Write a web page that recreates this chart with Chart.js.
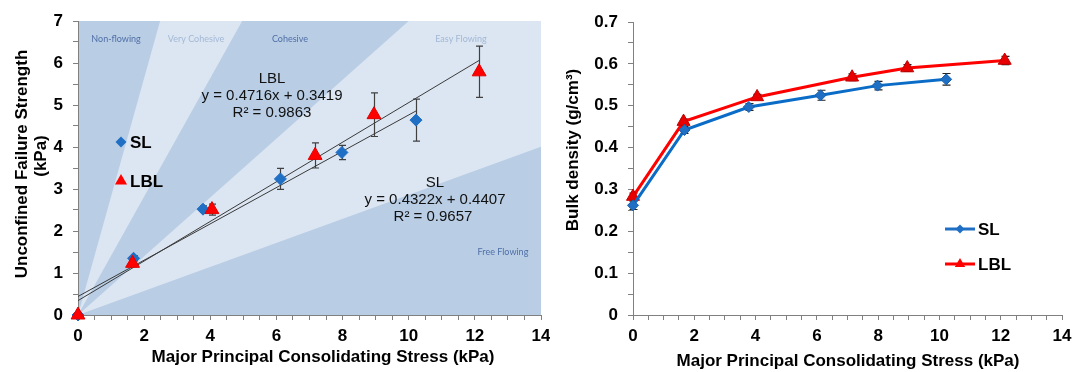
<!DOCTYPE html>
<html><head><meta charset="utf-8">
<script src="https://cdn.jsdelivr.net/npm/chart.js@4.4.1/dist/chart.umd.min.js"></script>
<style>
html,body{margin:0;padding:0;background:#fff;}
#wrap{position:relative;width:1075px;height:372px;overflow:hidden;background:#fff;}
#c1{position:absolute;left:0;top:0;}
#c2{position:absolute;left:550px;top:0;}
</style></head><body>
<div id="wrap"><canvas id="c1" width="550" height="372"></canvas><canvas id="c2" width="525" height="372"></canvas></div>
<script>
// ---------- DATA ----------
// Left: unconfined failure strength vs major principal consolidating stress
const slStressUFS  = [0, 1.68, 3.78, 6.12, 7.98, 10.22];
const slUFS        = [0, 1.35, 2.52, 3.24, 3.87, 4.64];
const slUFSErr     = [0, 0.06, 0.08, 0.25, 0.17, 0.50];
const lblStressUFS = [0, 1.65, 4.05, 7.17, 8.95, 12.13];
const lblUFS       = [0, 1.23, 2.51, 3.80, 4.77, 5.79];
const lblUFSErr    = [0, 0.08, 0.13, 0.30, 0.52, 0.61];
// Linear trend lines (end points)
const slTrendX  = [0, 10.22];
const slTrendY  = [0.441, 4.858];
const lblTrendX = [0, 12.13];
const lblTrendY = [0.342, 6.062];
// Flowability zone boundaries (slopes of lines through origin, in axis units)
const zoneSlopes = [2.82, 1.41, 0.70, 0.286];
const zoneNames  = ['Non-flowing', 'Very Cohesive', 'Cohesive', 'Easy Flowing', 'Free Flowing'];
const slEquation  = ['SL', 'y = 0.4322x + 0.4407', 'R² = 0.9657'];
const lblEquation = ['LBL', 'y = 0.4716x + 0.3419', 'R² = 0.9863'];

// Right: bulk density vs major principal consolidating stress
const slStressBD  = [0, 1.68, 3.78, 6.12, 7.98, 10.22];
const slBD        = [0.262, 0.442, 0.497, 0.525, 0.548, 0.563];
const slBDErr     = [0.010, 0.008, 0.008, 0.012, 0.010, 0.014];
const lblStressBD = [0, 1.65, 4.05, 7.15, 8.95, 12.13];
const lblBD       = [0.283, 0.462, 0.521, 0.568, 0.590, 0.608];
const lblBDErr    = [0.008, 0.006, 0.006, 0.008, 0.008, 0.010];

const seriesNames = ['SL', 'LBL'];
const xTitle = 'Major Principal Consolidating Stress (kPa)';
const yTitleLeft = ['Unconfined Failure Strength', '(kPa)'];
const yTitleRight = 'Bulk density (g/cm³)';

// ---------- HELPERS ----------
const FONT = '"Liberation Sans", Arial, sans-serif';
Chart.defaults.font.family = FONT;
Chart.defaults.color = '#000';
const BLUE = '#1f6fc4', RED = '#ff0000';
const pts = (xs, ys) => xs.map((x, i) => ({x: x, y: ys[i]}));

function drawMarker(ctx, style, x, y, r, fill, stroke) {
  ctx.beginPath();
  if (style === 'rectRot') {
    ctx.moveTo(x - r, y); ctx.lineTo(x, y - r); ctx.lineTo(x + r, y); ctx.lineTo(x, y + r);
  } else {
    const a = 2 * Math.PI / 3;
    ctx.moveTo(x, y - r);
    ctx.lineTo(x + r * Math.sin(a), y - r * Math.cos(a));
    ctx.lineTo(x + r * Math.sin(2 * a), y - r * Math.cos(2 * a));
  }
  ctx.closePath();
  ctx.fillStyle = fill; ctx.fill();
  if (stroke) { ctx.strokeStyle = stroke; ctx.lineWidth = 1; ctx.stroke(); }
}

const zonesPlugin = {
  id: 'zones',
  beforeDraw(chart, args, o) {
    if (!o || !o.slopes) return;
    const ctx = chart.ctx, xs = chart.scales.x, ys = chart.scales.y, a = chart.chartArea;
    ctx.save();
    ctx.beginPath(); ctx.rect(a.left, a.top, a.right - a.left, a.bottom - a.top); ctx.clip();
    ctx.fillStyle = o.dark; ctx.fillRect(a.left, a.top, a.right - a.left, a.bottom - a.top);
    const X = xs.max, ox = xs.getPixelForValue(0), oy = ys.getPixelForValue(0);
    const band = (s1, s2) => {
      ctx.beginPath(); ctx.moveTo(ox, oy);
      ctx.lineTo(xs.getPixelForValue(X), ys.getPixelForValue(s1 * X));
      ctx.lineTo(xs.getPixelForValue(X), ys.getPixelForValue(s2 * X));
      ctx.closePath(); ctx.fillStyle = o.light; ctx.fill();
    };
    band(o.slopes[0], o.slopes[1]);
    band(o.slopes[2], o.slopes[3]);
    ctx.font = o.labelFont; ctx.textAlign = 'center'; ctx.textBaseline = 'middle';
    o.labels.forEach(l => {
      ctx.fillStyle = l.color;
      ctx.fillText(l.text, xs.getPixelForValue(l.x), ys.getPixelForValue(l.y));
    });
    ctx.restore();
  }
};

const errorBarPlugin = {
  id: 'errorBars',
  beforeDatasetsDraw(chart, args, o) {
    const ctx = chart.ctx, xs = chart.scales.x, ys = chart.scales.y;
    ctx.save(); ctx.strokeStyle = o.color; ctx.lineWidth = o.width;
    chart.data.datasets.forEach(ds => {
      if (!ds.errors) return;
      ds.data.forEach((p, i) => {
        const e = ds.errors[i]; if (!e) return;
        const px = Math.round(xs.getPixelForValue(p.x)) + 0.5;
        const t = ys.getPixelForValue(p.y + e), b = ys.getPixelForValue(p.y - e);
        ctx.beginPath();
        ctx.moveTo(px, t); ctx.lineTo(px, b);
        ctx.moveTo(px - o.cap, t); ctx.lineTo(px + o.cap, t);
        ctx.moveTo(px - o.cap, b); ctx.lineTo(px + o.cap, b);
        ctx.stroke();
      });
    });
    ctx.restore();
  }
};

const textPlugin = {
  id: 'texts',
  afterDraw(chart, args, o) {
    const ctx = chart.ctx;
    ctx.save();
    (o.items || []).forEach(it => {
      ctx.save();
      ctx.font = it.font; ctx.fillStyle = it.color || '#000';
      ctx.textAlign = it.align || 'center'; ctx.textBaseline = 'middle';
      ctx.translate(it.x, it.y);
      if (it.rotate) ctx.rotate(it.rotate);
      ctx.fillText(it.text, 0, 0);
      ctx.restore();
    });
    (o.legend || []).forEach(lg => {
      if (lg.line) {
        ctx.beginPath(); ctx.strokeStyle = lg.color; ctx.lineWidth = lg.lineWidth;
        ctx.moveTo(lg.x - lg.line, lg.y); ctx.lineTo(lg.x + lg.line, lg.y); ctx.stroke();
      }
      drawMarker(ctx, lg.style, lg.x, lg.y, lg.r, lg.color, lg.stroke);
      ctx.font = lg.font; ctx.fillStyle = '#000'; ctx.textAlign = 'left'; ctx.textBaseline = 'middle';
      ctx.fillText(lg.text, lg.tx, lg.y + 1);
    });
    ctx.restore();
  }
};

function axisCfg(min, max, step, isMajor, fmt, width, height, pad) {
  return {
    type: 'linear', min: min, max: max,
    ticks: {
      stepSize: step, autoSkip: false, maxRotation: 0, padding: pad,
      font: {size: 17, weight: 'bold'}, color: '#000',
      callback: v => isMajor(v) ? fmt(v) : ''
    },
    grid: {drawOnChartArea: false, drawTicks: true, tickLength: 5, color: '#808080'},
    border: {color: '#808080', width: 1},
    title: {display: false},
    afterFit: s => {
      if (width != null) s.width = width;
      if (height != null) s.height = height;
      s.paddingLeft = 0; s.paddingRight = 0; s.paddingTop = 0; s.paddingBottom = 0;
    }
  };
}
const near = (v, m) => Math.abs(v / m - Math.round(v / m)) < 1e-6;
const BOLD17 = 'bold 17px ' + FONT;
const REG15 = '15px ' + FONT;

// ---------- LEFT CHART ----------
new Chart(document.getElementById('c1'), {
  type: 'scatter',
  data: {
    datasets: [
      {label: seriesNames[1], data: pts(lblStressUFS, lblUFS), errors: lblUFSErr, pointStyle: 'triangle',
       pointRadius: 8, pointHoverRadius: 8, backgroundColor: RED, borderColor: '#e00000', borderWidth: 1, showLine: false, clip: false},
      {label: seriesNames[0], data: pts(slStressUFS, slUFS), errors: slUFSErr, pointStyle: 'rectRot',
       pointRadius: 6, pointHoverRadius: 6, backgroundColor: BLUE, borderColor: BLUE, borderWidth: 1, showLine: false, clip: false},
      {label: 'LBL trend', data: pts(lblTrendX, lblTrendY), showLine: true, pointRadius: 0, borderColor: '#3a3a3a', borderWidth: 1, tension: 0},
      {label: 'SL trend', data: pts(slTrendX, slTrendY), showLine: true, pointRadius: 0, borderColor: '#3a3a3a', borderWidth: 1, tension: 0}
    ]
  },
  options: {
    responsive: false, animation: false, devicePixelRatio: 1,
    layout: {padding: {left: 0, top: 21, right: 9, bottom: 0}},
    scales: {
      x: axisCfg(0, 14, 0.5, v => near(v, 2), v => String(v), null, 57, 6),
      y: axisCfg(0, 7, 0.5, v => near(v, 1), v => String(v), 78, null, 10)
    },
    plugins: {
      legend: {display: false}, tooltip: {enabled: false},
      zones: {
        slopes: zoneSlopes, dark: '#b9cde5', light: '#dce6f2', labelFont: '9px Lato, sans-serif',
        labels: [
          {text: zoneNames[0], x: 1.15, y: 6.57, color: '#4f6fa6'},
          {text: zoneNames[1], x: 3.57, y: 6.57, color: '#a3b8d6'},
          {text: zoneNames[2], x: 6.41, y: 6.57, color: '#4f6fa6'},
          {text: zoneNames[3], x: 11.58, y: 6.57, color: '#a3b8d6'},
          {text: zoneNames[4], x: 12.85, y: 1.5, color: '#4f6fa6'}
        ]
      },
      errorBars: {color: '#404040', width: 1.2, cap: 3.5},
      texts: {
        items: [
          {text: yTitleLeft[0], x: 22, y: 164, rotate: -Math.PI / 2, font: BOLD17},
          {text: yTitleLeft[1], x: 41, y: 156, rotate: -Math.PI / 2, font: BOLD17},
          {text: xTitle, x: 323, y: 357, font: BOLD17},
          {text: lblEquation[0], x: 272, y: 79, font: REG15, color: '#111'},
          {text: lblEquation[1], x: 272, y: 96, font: REG15, color: '#111'},
          {text: lblEquation[2], x: 272, y: 113, font: REG15, color: '#111'},
          {text: slEquation[0], x: 435, y: 183, font: REG15, color: '#111'},
          {text: slEquation[1], x: 435, y: 200, font: REG15, color: '#111'},
          {text: slEquation[2], x: 433, y: 217, font: REG15, color: '#111'}
        ],
        legend: [
          {text: seriesNames[0], style: 'rectRot', x: 121, y: 142, r: 5.5, color: BLUE, tx: 130, font: BOLD17},
          {text: seriesNames[1], style: 'triangle', x: 121, y: 181, r: 7, color: RED, tx: 130, font: BOLD17}
        ]
      }
    }
  },
  plugins: [zonesPlugin, errorBarPlugin, textPlugin]
});

// ---------- RIGHT CHART ----------
new Chart(document.getElementById('c2'), {
  type: 'scatter',
  data: {
    datasets: [
      {label: seriesNames[0], data: pts(slStressBD, slBD), errors: slBDErr, showLine: true, tension: 0,
       borderColor: '#0a6cc6', borderWidth: 3, pointStyle: 'rectRot', pointRadius: 5.5, pointHoverRadius: 5.5,
       pointBackgroundColor: BLUE, pointBorderColor: '#1a5fa8', pointBorderWidth: 1, clip: false},
      {label: seriesNames[1], data: pts(lblStressBD, lblBD), errors: lblBDErr, showLine: true, tension: 0,
       borderColor: RED, borderWidth: 3, pointStyle: 'triangle', pointRadius: 7.5, pointHoverRadius: 7.5,
       pointBackgroundColor: '#e80000', pointBorderColor: '#c00000', pointBorderWidth: 1, clip: false}
    ]
  },
  options: {
    responsive: false, animation: false, devicePixelRatio: 1,
    layout: {padding: {left: 0, top: 22, right: 13, bottom: 0}},
    scales: {
      x: axisCfg(0, 14, 0.5, v => near(v, 2), v => String(v), null, 57, 6),
      y: axisCfg(0, 0.7, 0.05, v => near(v, 0.1), v => (Math.abs(v) < 1e-9 ? '0' : v.toFixed(1)), 83, null, 10)
    },
    plugins: {
      legend: {display: false}, tooltip: {enabled: false},
      errorBars: {color: '#222', width: 1.2, cap: 4},
      texts: {
        items: [
          {text: yTitleRight, x: 23, y: 150, rotate: -Math.PI / 2, font: BOLD17},
          {text: xTitle, x: 298, y: 361, font: BOLD17}
        ],
        legend: [
          {text: seriesNames[0], style: 'rectRot', x: 410, y: 229, r: 4.5, color: BLUE, line: 15, lineWidth: 3, tx: 428, font: BOLD17},
          {text: seriesNames[1], style: 'triangle', x: 410, y: 264, r: 6, color: RED, line: 15, lineWidth: 3, tx: 428, font: BOLD17}
        ]
      }
    }
  },
  plugins: [errorBarPlugin, textPlugin]
});
</script>
</body></html>
